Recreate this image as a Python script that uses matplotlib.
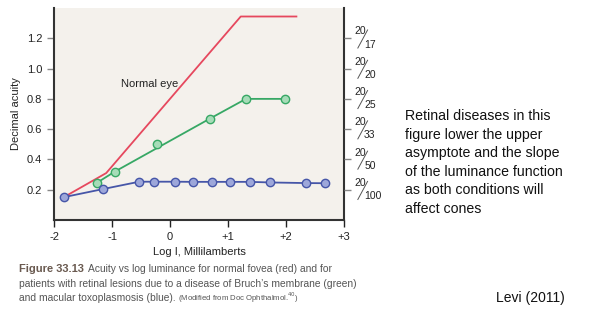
import matplotlib
matplotlib.use('Agg')
import matplotlib.pyplot as plt
import matplotlib.transforms as mtransforms

plt.rcParams['font.family'] = ['Liberation Sans Narrow', 'Liberation Sans', 'DejaVu Sans']

# normal fovea (red) - line only
red_x = [-1.83, -1.10, 1.22, 2.18]
red_y = [0.151, 0.31, 1.344, 1.344]

# Bruch's membrane disease (green)
green_x = [-1.26, -0.95, -0.23, 0.69, 1.31, 1.99]
green_y = [0.246, 0.32, 0.50, 0.67, 0.80, 0.80]
green_line_x = [-1.26, -0.95, 0.69, 1.31, 1.99]
green_line_y = [0.246, 0.32, 0.67, 0.80, 0.80]

# macular toxoplasmosis (blue)
blue_x = [-1.83, -1.16, -0.53, -0.27, 0.09, 0.39, 0.72, 1.04, 1.38, 1.73, 2.35, 2.67]
blue_y = [0.151, 0.204, 0.253, 0.253, 0.253, 0.252, 0.252, 0.252, 0.252, 0.248, 0.244, 0.243]

xticks = [-2, -1, 0, 1, 2, 3]
xtick_labels = ['-2', '-1', '0', '+1', '+2', '+3']
yticks = [0.2, 0.4, 0.6, 0.8, 1.0, 1.2]
snellen = ['100', '50', '33', '25', '20', '17']

fig = plt.figure(figsize=(5.91, 3.21), dpi=100)
ax = fig.add_axes([0.0914, 0.3146, 0.4906, 0.6604])
ax.set_facecolor('#f4f1ec')

ax.plot(red_x, red_y, color='#e6485e', lw=1.3)
ax.plot(green_line_x, green_line_y, color='#37a865', lw=1.3)
ax.plot(green_x, green_y, 'o', color='#37a865', mfc='#a6dcb8', ms=6, mew=1)
ax.plot(blue_x, blue_y, '-o', color='#4656a8', mfc='#9da7da', ms=6, mew=1, lw=1.3)

ax.text(-0.35, 0.90, 'Normal eye', fontsize=8, ha='center', va='center', color='#222')

ax.set_xlim(-2, 3)
ax.set_ylim(0, 1.4)
ax.set_xticks(xticks)
ax.set_xticklabels(xtick_labels)
ax.set_yticks(yticks)
ax.set_yticklabels(['%.1f' % v for v in yticks])
ax.tick_params(axis='both', labelsize=8, colors='#222', length=5, width=1)
ax.tick_params(axis='y', color='#888')
ax.spines['top'].set_visible(False)
for s in ['left', 'bottom', 'right']:
    ax.spines[s].set_color('#333')
    ax.spines[s].set_linewidth(1.5)

ax.set_ylabel('Decimal acuity', fontsize=8, color='#222', labelpad=4)
ax.set_xlabel('Log I, Millilamberts', fontsize=8, color='#222', labelpad=4)

# right hand Snellen scale
ax2 = ax.twinx()
ax2.set_ylim(ax.get_ylim())
ax2.set_yticks(yticks)
ax2.set_yticklabels([])
ax2.tick_params(axis='y', color='#888', length=5, width=1)
for s in ax2.spines.values():
    s.set_visible(False)
blend = mtransforms.blended_transform_factory(ax2.transAxes, ax2.transData)
for v, d in zip(yticks, snellen):
    ax2.annotate('20', (1, v), xycoords=blend, xytext=(7.5, 5),
                 textcoords='offset points', fontsize=7.5, ha='left', va='center', color='#222')
    ax2.annotate(d, (1, v), xycoords=blend, xytext=(14.5, -4.5),
                 textcoords='offset points', fontsize=7.5, ha='left', va='center', color='#222')
    slash = blend + mtransforms.ScaledTranslation(0, 0, fig.dpi_scale_trans)
    ax2.plot([1, 1], [v, v], transform=blend, alpha=0)
    tr1 = blend + mtransforms.ScaledTranslation(10 / 72, -7 / 72, fig.dpi_scale_trans)
    tr2 = blend + mtransforms.ScaledTranslation(17 / 72, 6 / 72, fig.dpi_scale_trans)
    p1 = tr1.transform((1, v))
    p2 = tr2.transform((1, v))
    fig.add_artist(plt.Line2D([p1[0] / fig.bbox.width, p2[0] / fig.bbox.width],
                              [p1[1] / fig.bbox.height, p2[1] / fig.bbox.height],
                              color='#555', lw=0.7, transform=fig.transFigure))

# caption
cap_font = ['Liberation Sans', 'DejaVu Sans']
cap_color = '#555'
fig.canvas.draw()
r = fig.canvas.get_renderer()
t = fig.text(0.032, 1 - 269 / 321, 'Figure 33.13', fontsize=8, fontweight='bold',
             family=cap_font, color='#6a5a50', va='center')
bb = t.get_window_extent(r).transformed(fig.transFigure.inverted())
fig.text(bb.x1 + 0.007, 1 - 269 / 321, 'Acuity vs log luminance for normal fovea (red) and for',
         fontsize=7.4, family=cap_font, color=cap_color, va='center')
fig.text(0.032, 1 - 284 / 321,
         'patients with retinal lesions due to a disease of Bruch\u2019s membrane (green)',
         fontsize=7.4, family=cap_font, color=cap_color, va='center')
t3 = fig.text(0.032, 1 - 298 / 321, 'and macular toxoplasmosis (blue).',
              fontsize=7.4, family=cap_font, color=cap_color, va='center')
bb3 = t3.get_window_extent(r).transformed(fig.transFigure.inverted())
fig.text(bb3.x1 + 0.005, 1 - 298 / 321, '(Modified from Doc Ophthalmol.$^{40}$)',
         fontsize=5.6, family=cap_font, color=cap_color, va='center')

fig.text(496 / 591, 1 - 298 / 321, 'Levi (2011)', fontsize=10,
         family=cap_font, color='#111', va='center')

side = ('Retinal diseases in this\nfigure lower the upper\nasymptote and the slope\n'
        'of the luminance function\nas both conditions will\naffect cones')
fig.text(405 / 591, 1 - 109 / 321, side, fontsize=10.2, linespacing=1.42,
         family=cap_font, color='#111', va='top')

fig.savefig('out.png', dpi=100)
